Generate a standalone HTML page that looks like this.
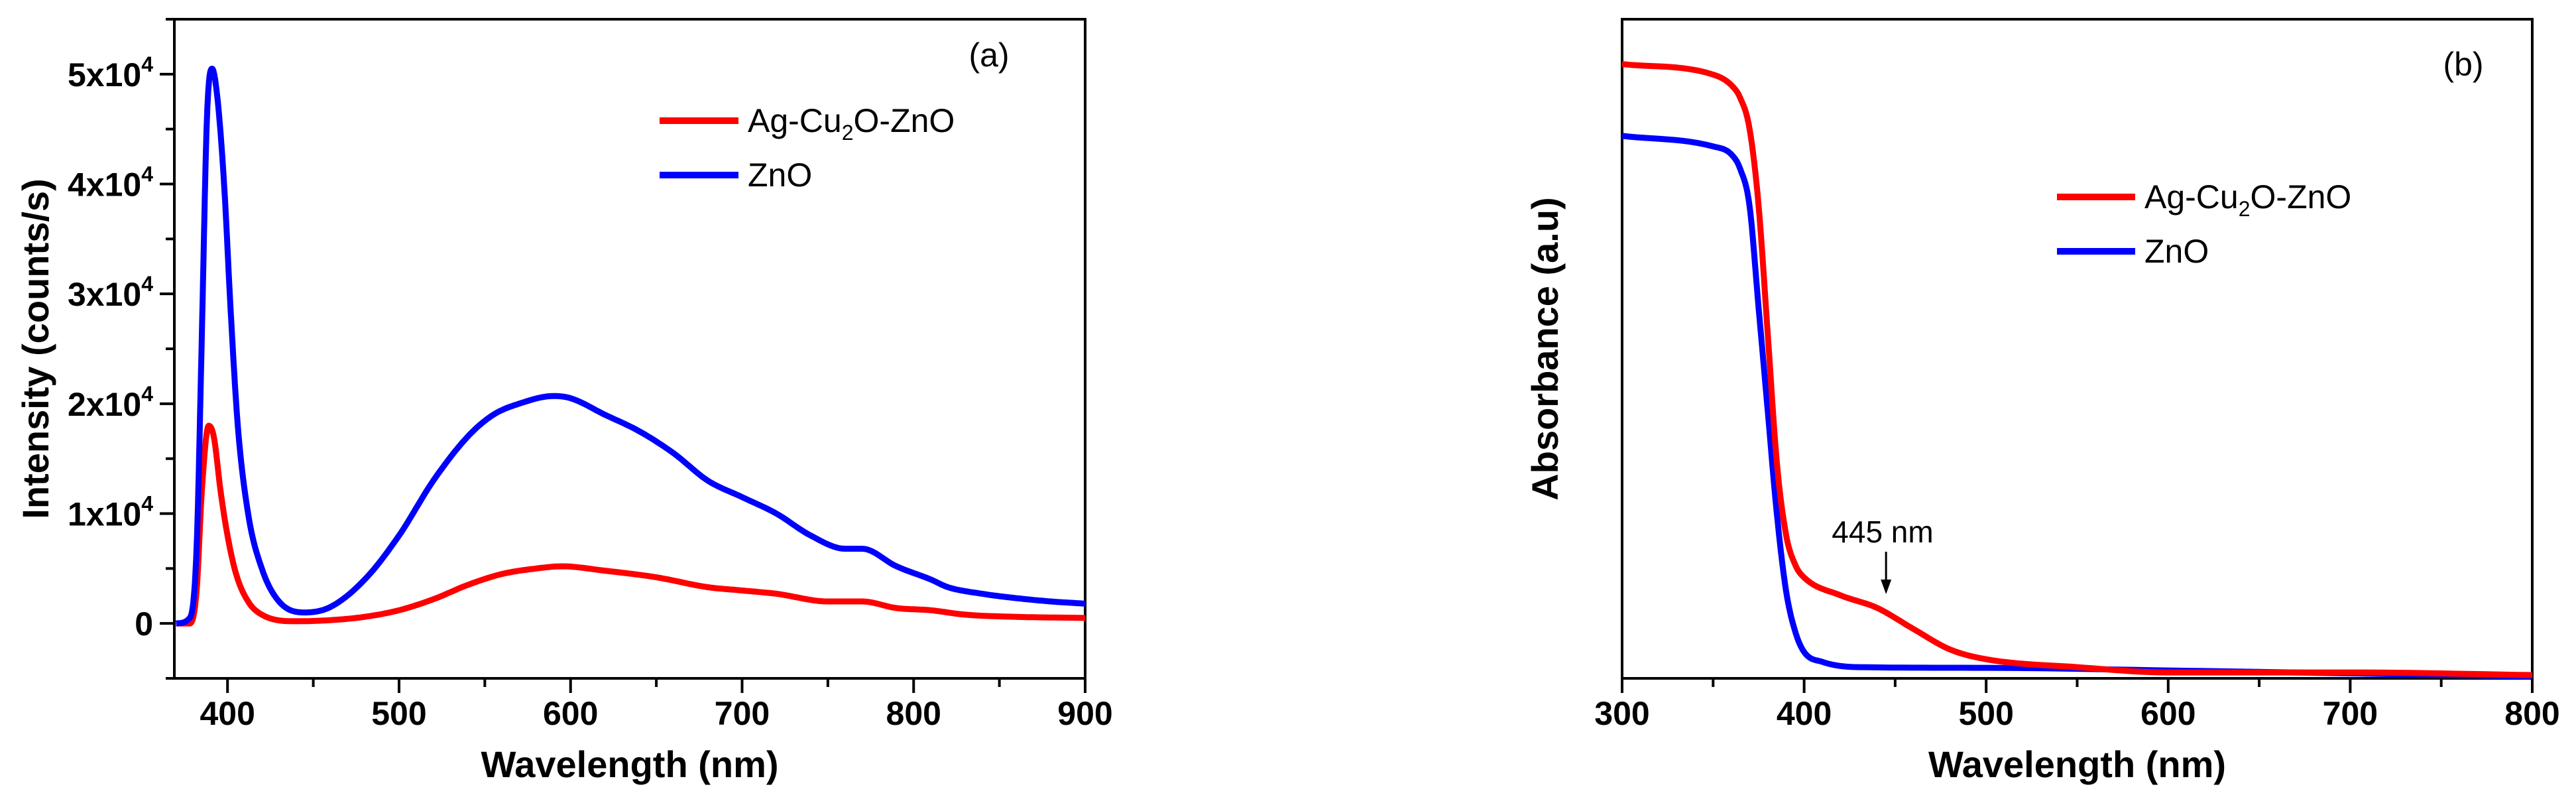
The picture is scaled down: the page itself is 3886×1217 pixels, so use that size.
<!DOCTYPE html>
<html><head><meta charset="utf-8"><style>
html,body{margin:0;padding:0;background:#fff;}
svg{display:block;font-family:"Liberation Sans",sans-serif;}
</style></head><body>
<svg id="chart" width="3886" height="1217" viewBox="0 0 3886 1217" xmlns="http://www.w3.org/2000/svg"></svg>
<script>
// Panel (a) data
const pl_x_znO = [370,378,382,385,388,391,394,398,402,406,412,420,430,445,460,480,500,520,540,555,570,590,600,620,640,660,680,700,720,740,760,770,790,810,820,840,860,880,900];
const pl_y_znO = [0,0.05,0.7,2.6,4.6,5.05,4.8,4,2.8,1.8,1,0.5,0.2,0.1,0.15,0.4,0.8,1.3,1.7,1.9,2.0,2.07,2.05,1.9,1.75,1.55,1.3,1.15,1.0,0.8,0.68,0.68,0.52,0.4,0.33,0.27,0.23,0.2,0.18];
const pl_x_ag = [370,378,382,385,389,392,396,400,405,412,420,440,460,480,500,520,540,560,580,595,620,650,680,700,720,750,770,790,810,830,860,900];
const pl_y_ag = [0,0,0.3,1.2,1.8,1.7,1.2,0.8,0.45,0.2,0.08,0.02,0.03,0.06,0.12,0.22,0.35,0.45,0.5,0.52,0.48,0.42,0.33,0.3,0.27,0.2,0.2,0.14,0.12,0.08,0.06,0.05];
const plXTicks = [400,500,600,700,800,900];
const plYTicks = [0,1,2,3,4,5];
// Panel (b) data
const abs_x_ag = [300,350,360,365,370,375,380,385,390,395,400,420,440,460,480,500,550,600,700,800];
const abs_y_ag = [0.932,0.916,0.90,0.88,0.834,0.717,0.523,0.328,0.219,0.173,0.153,0.126,0.107,0.075,0.044,0.029,0.017,0.009,0.009,0.005];
const abs_x_zno = [300,350,360,365,370,375,380,385,390,395,400,410,430,500,600,800];
const abs_y_zno = [0.823,0.807,0.795,0.772,0.717,0.562,0.406,0.25,0.134,0.072,0.04,0.025,0.017,0.016,0.012,0.003];
const absXTicks = [300,400,500,600,700,800];

const NS="http://www.w3.org/2000/svg";
const svg=document.getElementById('chart');
function mk(tag,attrs,parent){const e=document.createElementNS(NS,tag);for(const k in attrs)e.setAttribute(k,attrs[k]);(parent||svg).appendChild(e);return e;}

const A={l:263,r:1637,t:29,b:1023,x0:369,x1:900,y0:-0.5,y1:5.5};
const ax=v=>A.l+(v-A.x0)/(A.x1-A.x0)*(A.r-A.l);
const ay=v=>A.b-(v-A.y0)/(A.y1-A.y0)*(A.b-A.t);
const B={l:2447,r:3820,t:29,b:1023,x0:300,x1:800};
const bx=v=>B.l+(v-B.x0)/(B.x1-B.x0)*(B.r-B.l);
const by=v=>B.b-v*(B.b-B.t);

// monotone cubic (Fritsch-Carlson) sampling
function monotone(xs,ys){
  const n=xs.length,d=[],m=new Array(n);
  for(let i=0;i<n-1;i++)d.push((ys[i+1]-ys[i])/(xs[i+1]-xs[i]));
  m[0]=d[0];m[n-1]=d[n-2];
  for(let i=1;i<n-1;i++){m[i]=(d[i-1]*d[i]<=0)?0:(d[i-1]+d[i])/2;}
  for(let i=0;i<n-1;i++){if(d[i]===0){m[i]=0;m[i+1]=0;continue;}const a=m[i]/d[i],b=m[i+1]/d[i],s=a*a+b*b;if(s>9){const t=3/Math.sqrt(s);m[i]=t*a*d[i];m[i+1]=t*b*d[i];}}
  const out=[];
  for(let i=0;i<n-1;i++){const h=xs[i+1]-xs[i];const steps=12;
    for(let k=0;k<steps;k++){const t=k/steps,t2=t*t,t3=t2*t;
      const y=(2*t3-3*t2+1)*ys[i]+(t3-2*t2+t)*h*m[i]+(-2*t3+3*t2)*ys[i+1]+(t3-t2)*h*m[i+1];
      out.push([xs[i]+t*h,y]);}}
  out.push([xs[n-1],ys[n-1]]);return out;
}
function path(xs,ys,fx,fy,color,name){
  let d='';monotone(xs,ys).forEach((p,i)=>{d+=(i?'L':'M')+fx(p[0]).toFixed(1)+','+fy(p[1]).toFixed(1);});
  const p=mk('path',{d:d,fill:'none',stroke:color,'stroke-width':9,'stroke-linejoin':'round'});
  
  
}
function text(x,y,s,attrs,name){const t=mk('text',Object.assign({x:x,y:y},attrs));t.textContent=s;
  
  
  return t;}

const fa=mk('rect',{x:A.l,y:A.t,width:A.r-A.l,height:A.b-A.t,fill:'none',stroke:'#000','stroke-width':4});


const fb=mk('rect',{x:B.l,y:B.t,width:B.r-B.l,height:B.b-B.t,fill:'none',stroke:'#000','stroke-width':4});



path(pl_x_ag,pl_y_ag,ax,ay,'#ff0000','series-ag-cu2o-zno-pl');
path(pl_x_znO,pl_y_znO,ax,ay,'#0000ff','series-zno-pl');
path(abs_x_zno,abs_y_zno,bx,by,'#0000ff','series-zno-abs');
path(abs_x_ag,abs_y_ag,bx,by,'#ff0000','series-ag-cu2o-zno-abs');

const tickFont={'font-size':50,'font-weight':'bold','text-anchor':'middle'};
for(let v=400;v<=900;v+=50){const maj=v%100===0;mk('line',{x1:ax(v),x2:ax(v),y1:A.b,y2:A.b+(maj?22:13),stroke:'#000','stroke-width':4});}
plXTicks.forEach(v=>text(ax(v),A.b+70,String(v),tickFont,'x-tick-label-a'));
for(let v=-0.5;v<=5.5;v+=0.5){const maj=Math.abs(v-Math.round(v))<1e-6;mk('line',{x1:A.l,x2:A.l-(maj?22:13),y1:ay(v),y2:ay(v),stroke:'#000','stroke-width':4});}
plYTicks.forEach(v=>{
  if(v===0){text(A.l-32,ay(v)+18,'0',{'font-size':50,'font-weight':'bold','text-anchor':'end'},'y-tick-label-a');return;}
  const t=text(A.l-32,ay(v)+18,'',{'font-size':50,'font-weight':'bold','text-anchor':'end'},'y-tick-label-a');
  const s1=mk('tspan',{},t);s1.textContent=v+'x10';
  const s2=mk('tspan',{'font-size':32,dy:-22},t);s2.textContent='4';
});
for(let v=300;v<=800;v+=50){const maj=v%100===0;mk('line',{x1:bx(v),x2:bx(v),y1:B.b,y2:B.b+(maj?22:13),stroke:'#000','stroke-width':4});}
absXTicks.forEach(v=>text(bx(v),B.b+70,String(v),tickFont,'x-tick-label-b'));

const titleFont={'font-size':56,'font-weight':'bold','text-anchor':'middle'};
text((A.l+A.r)/2,1172,'Wavelength (nm)',titleFont,'x-axis-title-a');
text((B.l+B.r)/2,1172,'Wavelength (nm)',titleFont,'x-axis-title-b');
text(0,0,'Intensity (counts/s)',Object.assign({transform:'translate(73,526) rotate(-90)'},titleFont),'y-axis-title-a');
text(0,0,'Absorbance (a.u)',Object.assign({transform:'translate(2350,526) rotate(-90)'},titleFont),'y-axis-title-b');

text(1492,100,'(a)',{'font-size':50,'text-anchor':'middle'},'panel-label-a');
text(3716,114,'(b)',{'font-size':50,'text-anchor':'middle'},'panel-label-b');

function legend(x1,x2,y,color,label,sub,name){
  const l=mk('line',{x1:x1,x2:x2,y1:y,y2:y,stroke:color,'stroke-width':10});
  
  
  const t=text(x2+14,y+17,'',{'font-size':50},name);
  if(sub){const a=mk('tspan',{},t);a.textContent='Ag-Cu';const b=mk('tspan',{'font-size':32,dy:12},t);b.textContent='2';const c=mk('tspan',{dy:-12},t);c.textContent='O-ZnO';}
  else{t.textContent=label;}
}
legend(995,1114,182,'#ff0000','',true,'legend-entry-ag-cu2o-zno-a');
legend(995,1114,264,'#0000ff','ZnO',false,'legend-entry-zno-a');
legend(3103,3221,297,'#ff0000','',true,'legend-entry-ag-cu2o-zno-b');
legend(3103,3221,379,'#0000ff','ZnO',false,'legend-entry-zno-b');

text(2840,818,'445 nm',{'font-size':46,'text-anchor':'middle'},'annotation-445nm');
const ar=mk('line',{x1:bx(445),x2:bx(445),y1:832,y2:885,stroke:'#000','stroke-width':3});


const ah=mk('path',{d:`M${bx(445)-8},874 L${bx(445)+8},874 L${bx(445)},896 Z`,fill:'#000'});


</script>
</body></html>
